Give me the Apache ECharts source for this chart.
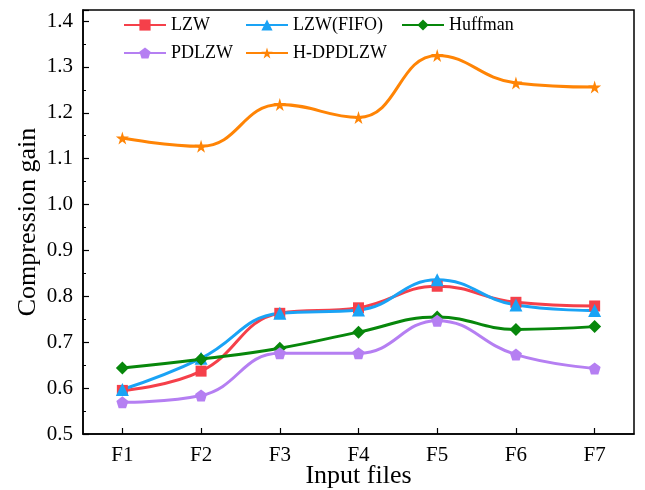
<!DOCTYPE html>
<html><head><meta charset="utf-8">
<script src="https://cdn.jsdelivr.net/npm/echarts@6/dist/echarts.min.js"></script>
<style>html,body{margin:0;padding:0;background:#fff}#c{width:645px;height:490px}</style>
</head><body><div id="c"></div>
<script>
var categories = ['F1','F2','F3','F4','F5','F6','F7'];
var lzw      = [0.595, 0.637, 0.763, 0.775, 0.822, 0.787, 0.779];
var lzwFifo  = [0.597, 0.665, 0.763, 0.770, 0.836, 0.781, 0.769];
var huffman  = [0.644, 0.663, 0.687, 0.722, 0.755, 0.728, 0.734];
var pdlzw    = [0.569, 0.584, 0.676, 0.676, 0.747, 0.673, 0.643];
var hdpdlzw  = [1.145, 1.127, 1.218, 1.190, 1.325, 1.265, 1.256];

var FONT = '"Liberation Serif", "DejaVu Serif", serif';
var STAR = 'path://M50,0 L61,35 L98,35 L68,57 L79,91 L50,70 L21,91 L32,57 L2,35 L39,35 Z';
var PENT = 'path://M50,0 L100,38 L81,100 L19,100 L0,38 Z';

function mk(name, data, color, symbol, size) {
  return {
    name: name, type: 'line', data: data, smooth: 0.45,
    symbol: symbol, symbolSize: size,
    lineStyle: {color: color, width: 3},
    itemStyle: {color: color},
    z: 3
  };
}
function leg(data, left) {
  return {
    data: data, left: left, top: 16, orient: 'vertical', itemGap: 10,
    itemWidth: 42, itemHeight: 14,
    textStyle: {fontFamily: FONT, fontSize: 18, color: '#000'},
    padding: 0
  };
}
var chart = echarts.init(document.getElementById('c'), null, {renderer: 'canvas'});
chart.setOption({
  animation: false,
  backgroundColor: '#fff',
  legend: [leg(['LZW','PDLZW'], 123), leg(['LZW(FIFO)','H-DPDLZW'], 245), leg(['Huffman'], 401)],
  grid: {left: 83, right: 11, top: 10, bottom: 56, show: true, borderColor: '#000', borderWidth: 1.5,
         containLabel: false, outerBoundsMode: 'none'},
  xAxis: {
    type: 'category', data: categories, boundaryGap: true,
    name: 'Input files', nameLocation: 'middle', nameGap: 29, nameMoveOverlap: false,
    nameTextStyle: {fontFamily: FONT, fontSize: 26, color: '#000'},
    axisLine: {lineStyle: {color: '#000', width: 1.5}},
    axisTick: {show: true, inside: true, alignWithLabel: true, length: 6, lineStyle: {color: '#000', width: 1.2}},
    axisLabel: {fontFamily: FONT, fontSize: 21, color: '#000', margin: 11},
    splitLine: {show: false}
  },
  yAxis: {
    type: 'value', min: 0.5, max: 1.424, interval: 0.1,
    name: 'Compression gain', nameLocation: 'middle', nameGap: 42, nameMoveOverlap: false,
    nameTextStyle: {fontFamily: FONT, fontSize: 26, color: '#000'},
    axisLine: {show: true, lineStyle: {color: '#000', width: 1.5}},
    axisTick: {show: true, inside: true, length: 6, lineStyle: {color: '#000', width: 1.2}},
    minorTick: {show: true, splitNumber: 2, length: 3, lineStyle: {color: '#000', width: 1}},
    axisLabel: {fontFamily: FONT, fontSize: 21, color: '#000', margin: 10, showMaxLabel: false,
      formatter: function (v) { var r = Math.round(v * 10); return Math.abs(v * 10 - r) < 1e-6 ? (r / 10).toFixed(1) : ''; }},
    splitLine: {show: false}
  },
  series: [
    mk('LZW', lzw, '#f5404a', 'rect', 11),
    mk('LZW(FIFO)', lzwFifo, '#1aa3f5', 'triangle', 13),
    mk('Huffman', huffman, '#07870b', 'diamond', 13),
    mk('PDLZW', pdlzw, '#b57ff2', PENT, 12),
    mk('H-DPDLZW', hdpdlzw, '#ff8405', STAR, 13)
  ]
});
</script></body></html>
